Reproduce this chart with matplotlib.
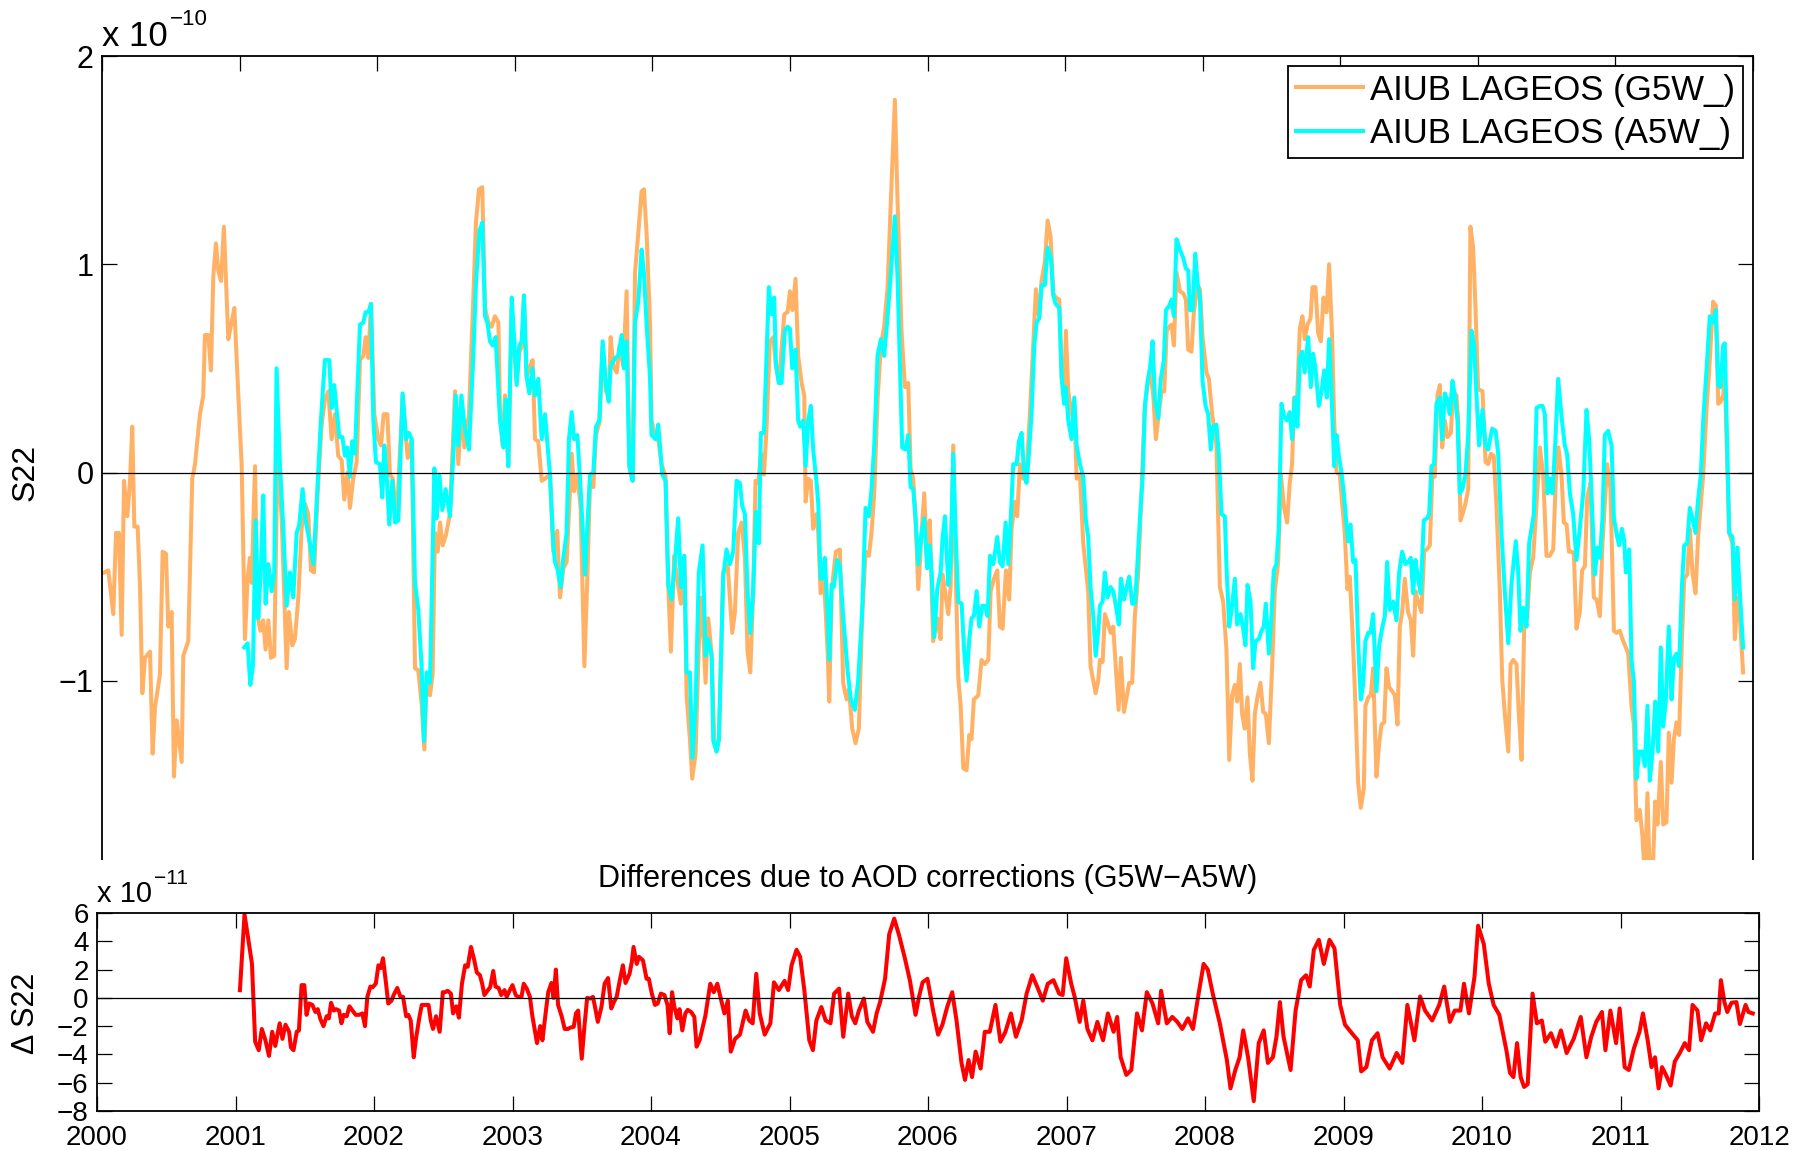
import matplotlib
matplotlib.use("Agg")
import matplotlib.pyplot as plt
from matplotlib.patches import Rectangle

plt.rcParams['font.family'] = ['Liberation Sans', 'DejaVu Sans']

# S22 from AIUB LAGEOS solutions with the G5W_ processing (decimal year, units of 1e-10)
g5w = [
    (2000.017, -0.48), (2000.046, -0.47), (2000.082, -0.68), (2000.102, -0.29), (2000.123, -0.29),
    (2000.143, -0.78), (2000.160, -0.04), (2000.184, -0.21), (2000.203, -0.05), (2000.220, 0.22),
    (2000.235, -0.26), (2000.259, -0.26), (2000.276, -0.54), (2000.293, -1.06), (2000.312, -0.89),
    (2000.349, -0.86), (2000.368, -1.35), (2000.385, -1.13), (2000.421, -0.97), (2000.441, -0.38),
    (2000.465, -0.39), (2000.482, -0.74), (2000.506, -0.67), (2000.523, -1.46), (2000.543, -1.19),
    (2000.579, -1.39), (2000.591, -0.88), (2000.627, -0.81), (2000.656, -0.03), (2000.676, 0.04),
    (2000.712, 0.28), (2000.736, 0.37), (2000.748, 0.66), (2000.773, 0.66), (2000.792, 0.49),
    (2000.809, 0.94), (2000.828, 1.10), (2000.845, 0.97), (2000.865, 0.92), (2000.886, 1.18),
    (2000.918, 0.64), (2000.942, 0.72), (2000.962, 0.79), (2000.991, 0.37), (2001.015, 0.04),
    (2001.039, -0.80), (2001.058, -0.51), (2001.075, -0.41), (2001.088, -0.53), (2001.112, 0.03),
    (2001.131, -0.69), (2001.151, -0.76), (2001.172, -0.71), (2001.189, -0.85), (2001.209, -0.71),
    (2001.228, -0.89), (2001.252, -0.88), (2001.276, 0.10), (2001.306, -0.22), (2001.342, -0.94),
    (2001.359, -0.67), (2001.383, -0.83), (2001.402, -0.80), (2001.427, -0.60), (2001.451, -0.27),
    (2001.475, -0.15), (2001.499, -0.20), (2001.519, -0.47), (2001.541, -0.48), (2001.567, -0.10),
    (2001.596, 0.23), (2001.620, 0.35), (2001.645, 0.39), (2001.669, 0.16), (2001.693, 0.28),
    (2001.717, 0.08), (2001.742, 0.06), (2001.761, -0.13), (2001.785, 0.00), (2001.802, -0.17),
    (2001.826, -0.03), (2001.851, 0.05), (2001.875, 0.54), (2001.899, 0.56), (2001.916, 0.65),
    (2001.936, 0.55), (2001.955, 0.81), (2001.979, 0.28), (2002.008, 0.16), (2002.028, 0.13),
    (2002.047, 0.28), (2002.074, 0.28), (2002.093, -0.01), (2002.113, -0.03), (2002.142, -0.23),
    (2002.185, 0.37), (2002.210, 0.16), (2002.222, 0.07), (2002.251, 0.16), (2002.275, -0.94),
    (2002.299, -0.95), (2002.323, -1.11), (2002.343, -1.33), (2002.360, -0.97), (2002.384, -1.07),
    (2002.403, -0.97), (2002.420, -0.29), (2002.440, -0.38), (2002.457, -0.24), (2002.476, -0.35),
    (2002.500, -0.30), (2002.529, -0.20), (2002.566, 0.39), (2002.590, 0.04), (2002.614, 0.32),
    (2002.634, 0.12), (2002.667, 0.28), (2002.699, 0.84), (2002.718, 1.20), (2002.740, 1.36),
    (2002.764, 1.37), (2002.784, 0.79), (2002.808, 0.72), (2002.832, 0.70), (2002.856, 0.75),
    (2002.881, 0.72), (2002.893, 0.28), (2002.912, 0.13), (2002.929, 0.37), (2002.953, 0.03),
    (2002.978, 0.79), (2002.995, 0.61), (2003.014, 0.43), (2003.033, 0.58), (2003.057, 0.61),
    (2003.067, 0.85), (2003.086, 0.46), (2003.111, 0.51), (2003.130, 0.54), (2003.147, 0.16),
    (2003.171, 0.15), (2003.196, -0.04), (2003.220, -0.03), (2003.256, -0.01), (2003.280, -0.38),
    (2003.309, -0.28), (2003.329, -0.60), (2003.353, -0.46), (2003.377, -0.43), (2003.414, 0.09),
    (2003.431, -0.09), (2003.455, -0.01), (2003.479, -0.17), (2003.506, -0.93), (2003.527, -0.52),
    (2003.547, -0.05), (2003.571, -0.07), (2003.590, 0.18), (2003.615, 0.24), (2003.639, 0.61),
    (2003.663, 0.39), (2003.683, 0.37), (2003.697, 0.65), (2003.716, 0.51), (2003.741, 0.48),
    (2003.760, 0.61), (2003.789, 0.51), (2003.813, 0.87), (2003.833, 0.03), (2003.857, -0.04),
    (2003.874, 0.96), (2003.898, 1.15), (2003.922, 1.35), (2003.939, 1.36), (2003.959, 1.14),
    (2003.983, 0.72), (2003.994, 0.25), (2004.024, 0.16), (2004.043, 0.16), (2004.067, 0.04),
    (2004.096, -0.02), (2004.116, -0.55), (2004.135, -0.86), (2004.159, -0.40), (2004.176, -0.49),
    (2004.208, -0.63), (2004.232, -0.40), (2004.249, -1.07), (2004.273, -1.28), (2004.290, -1.47),
    (2004.314, -1.35), (2004.338, -0.83), (2004.358, -0.60), (2004.387, -1.01), (2004.406, -0.70),
    (2004.431, -0.87), (2004.450, -1.28), (2004.467, -1.34), (2004.484, -1.28), (2004.515, -0.48),
    (2004.547, -0.44), (2004.581, -0.77), (2004.600, -0.67), (2004.624, -0.29), (2004.649, -0.24),
    (2004.673, -0.41), (2004.692, -0.86), (2004.712, -0.96), (2004.733, -0.57), (2004.750, -0.04),
    (2004.770, -0.05), (2004.789, 0.09), (2004.811, -0.01), (2004.830, 0.21), (2004.854, 0.63),
    (2004.879, 0.65), (2004.898, 0.52), (2004.920, 0.43), (2004.959, 0.76), (2004.983, 0.77),
    (2005.000, 0.87), (2005.019, 0.78), (2005.041, 0.93), (2005.060, 0.56), (2005.085, 0.43),
    (2005.104, 0.37), (2005.114, -0.14), (2005.133, -0.03), (2005.152, -0.04), (2005.169, -0.27),
    (2005.194, -0.20), (2005.206, -0.29), (2005.223, -0.58), (2005.249, -0.52), (2005.274, -0.86),
    (2005.286, -1.10), (2005.303, -0.57), (2005.334, -0.38), (2005.363, -0.37), (2005.387, -1.01),
    (2005.412, -1.09), (2005.429, -1.04), (2005.453, -1.23), (2005.477, -1.30), (2005.501, -1.23),
    (2005.525, -0.69), (2005.550, -0.38), (2005.574, -0.40), (2005.593, -0.29), (2005.613, -0.10),
    (2005.637, 0.35), (2005.661, 0.61), (2005.685, 0.70), (2005.710, 0.89), (2005.734, 1.31),
    (2005.763, 1.79), (2005.782, 1.31), (2005.811, 0.68), (2005.836, 0.41), (2005.860, 0.43),
    (2005.877, 0.02), (2005.896, -0.03), (2005.913, -0.22), (2005.933, -0.56), (2005.957, -0.29),
    (2005.976, -0.10), (2005.998, -0.43), (2006.017, -0.23), (2006.041, -0.81), (2006.071, -0.70),
    (2006.095, -0.80), (2006.110, -0.49), (2006.127, -0.57), (2006.151, -0.68), (2006.168, -0.55),
    (2006.187, 0.13), (2006.207, -0.53), (2006.224, -0.99), (2006.241, -1.12), (2006.260, -1.42),
    (2006.284, -1.43), (2006.304, -1.26), (2006.320, -1.28), (2006.337, -1.09), (2006.369, -1.07),
    (2006.393, -0.90), (2006.417, -0.92), (2006.442, -0.90), (2006.459, -0.57), (2006.483, -0.51),
    (2006.507, -0.47), (2006.526, -0.74), (2006.546, -0.75), (2006.570, -0.47), (2006.594, -0.61),
    (2006.611, -0.27), (2006.635, -0.14), (2006.652, -0.21), (2006.672, 0.04), (2006.696, -0.03),
    (2006.720, -0.01), (2006.744, 0.28), (2006.769, 0.62), (2006.788, 0.88), (2006.812, 0.74),
    (2006.829, 0.92), (2006.853, 1.01), (2006.873, 1.21), (2006.895, 1.13), (2006.914, 0.86),
    (2006.933, 0.84), (2006.958, 0.83), (2006.975, 0.46), (2006.992, 0.37), (2007.006, 0.68),
    (2007.023, 0.39), (2007.047, 0.28), (2007.067, 0.32), (2007.084, -0.03), (2007.108, -0.01),
    (2007.132, -0.34), (2007.151, -0.46), (2007.168, -0.57), (2007.185, -0.93), (2007.205, -1.00),
    (2007.222, -1.06), (2007.241, -1.00), (2007.253, -0.90), (2007.273, -0.91), (2007.289, -0.68),
    (2007.309, -0.72), (2007.331, -0.77), (2007.350, -0.74), (2007.369, -0.94), (2007.389, -1.14),
    (2007.406, -0.89), (2007.428, -1.15), (2007.447, -1.08), (2007.466, -1.01), (2007.488, -1.01),
    (2007.507, -0.69), (2007.532, -0.48), (2007.556, -0.08), (2007.580, 0.32), (2007.600, 0.42),
    (2007.617, 0.50), (2007.641, 0.37), (2007.660, 0.16), (2007.677, 0.26), (2007.701, 0.39),
    (2007.721, 0.39), (2007.738, 0.68), (2007.757, 0.70), (2007.774, 0.71), (2007.791, 0.61),
    (2007.810, 0.96), (2007.835, 0.87), (2007.859, 0.86), (2007.878, 0.83), (2007.895, 0.59),
    (2007.919, 0.58), (2007.936, 0.77), (2007.963, 0.90), (2007.980, 0.88), (2007.999, 0.65),
    (2008.028, 0.48), (2008.045, 0.45), (2008.069, 0.28), (2008.100, 0.13), (2008.125, -0.55),
    (2008.149, -0.62), (2008.173, -0.85), (2008.193, -1.38), (2008.214, -1.07), (2008.234, -1.02),
    (2008.251, -1.10), (2008.270, -0.92), (2008.287, -1.16), (2008.306, -1.23), (2008.326, -1.08),
    (2008.343, -1.35), (2008.362, -1.48), (2008.379, -1.16), (2008.398, -1.08), (2008.420, -1.01),
    (2008.440, -1.15), (2008.459, -1.16), (2008.481, -1.30), (2008.505, -0.93), (2008.524, -0.57),
    (2008.549, -0.43), (2008.568, -0.01), (2008.592, -0.17), (2008.614, -0.24), (2008.633, -0.05),
    (2008.650, 0.04), (2008.665, 0.36), (2008.684, 0.31), (2008.706, 0.69), (2008.725, 0.75),
    (2008.742, 0.64), (2008.762, 0.71), (2008.784, 0.74), (2008.798, 0.89), (2008.820, 0.89),
    (2008.839, 0.67), (2008.859, 0.63), (2008.878, 0.84), (2008.900, 0.77), (2008.919, 1.00),
    (2008.941, 0.65), (2008.956, 0.25), (2008.973, 0.00), (2008.997, -0.01), (2009.014, -0.15),
    (2009.033, -0.29), (2009.052, -0.56), (2009.069, -0.50), (2009.089, -0.76), (2009.106, -1.04),
    (2009.130, -1.49), (2009.149, -1.61), (2009.171, -1.52), (2009.183, -1.12), (2009.203, -1.08),
    (2009.222, -1.07), (2009.239, -0.94), (2009.263, -1.46), (2009.283, -1.30), (2009.300, -1.21),
    (2009.319, -1.20), (2009.336, -0.94), (2009.355, -1.03), (2009.377, -1.05), (2009.397, -1.07),
    (2009.416, -1.21), (2009.433, -0.74), (2009.450, -0.67), (2009.469, -0.51), (2009.493, -0.67),
    (2009.513, -0.71), (2009.530, -0.88), (2009.547, -0.57), (2009.566, -0.62), (2009.590, -0.67),
    (2009.610, -0.38), (2009.627, -0.37), (2009.651, -0.35), (2009.670, -0.01), (2009.687, -0.02),
    (2009.707, 0.37), (2009.724, 0.42), (2009.741, 0.12), (2009.760, 0.25), (2009.779, 0.17),
    (2009.804, 0.19), (2009.820, 0.39), (2009.845, 0.37), (2009.857, 0.25), (2009.874, -0.23),
    (2009.893, -0.19), (2009.910, -0.15), (2009.930, -0.08), (2009.946, 1.18), (2009.966, 1.08),
    (2009.983, 0.79), (2010.002, 0.40), (2010.034, 0.39), (2010.056, 0.05), (2010.075, 0.04),
    (2010.095, 0.09), (2010.116, 0.08), (2010.136, -0.17), (2010.160, -0.57), (2010.177, -0.99),
    (2010.196, -1.16), (2010.221, -1.34), (2010.238, -0.92), (2010.257, -0.90), (2010.281, -0.92),
    (2010.298, -1.16), (2010.318, -1.38), (2010.337, -0.74), (2010.359, -0.69), (2010.378, -0.48),
    (2010.402, -0.41), (2010.422, -0.20), (2010.451, 0.12), (2010.475, -0.01), (2010.499, -0.40),
    (2010.523, -0.40), (2010.548, -0.37), (2010.567, -0.03), (2010.586, 0.12), (2010.608, -0.01),
    (2010.625, -0.24), (2010.645, -0.25), (2010.662, -0.38), (2010.681, -0.38), (2010.698, -0.39),
    (2010.717, -0.75), (2010.741, -0.67), (2010.758, -0.47), (2010.778, -0.45), (2010.795, -0.12),
    (2010.819, -0.05), (2010.843, -0.60), (2010.863, -0.61), (2010.887, -0.69), (2010.906, -0.34),
    (2010.940, 0.04), (2010.964, -0.08), (2010.989, -0.76), (2011.008, -0.77), (2011.032, -0.76),
    (2011.051, -0.80), (2011.076, -0.84), (2011.093, -0.87), (2011.117, -1.12), (2011.134, -1.21),
    (2011.153, -1.67), (2011.177, -1.62), (2011.197, -1.75), (2011.214, -1.95), (2011.233, -1.54),
    (2011.250, -1.95), (2011.270, -1.95), (2011.289, -1.58), (2011.306, -1.69), (2011.330, -1.39),
    (2011.347, -1.69), (2011.371, -1.68), (2011.388, -1.25), (2011.408, -1.49), (2011.425, -1.28),
    (2011.444, -1.20), (2011.463, -1.26), (2011.483, -0.81), (2011.500, -0.51), (2011.522, -0.49),
    (2011.541, -0.27), (2011.560, -0.48), (2011.582, -0.58), (2011.601, -0.31), (2011.621, -0.15),
    (2011.638, -0.01), (2011.662, 0.30), (2011.686, 0.54), (2011.710, 0.82), (2011.730, 0.80),
    (2011.747, 0.33), (2011.764, 0.34), (2011.783, 0.37), (2011.795, 0.46), (2011.812, 0.06),
    (2011.827, -0.29), (2011.851, -0.34), (2011.868, -0.80), (2011.887, -0.60), (2011.904, -0.69),
    (2011.928, -0.96),
]

# S22 from AIUB LAGEOS solutions with the A5W_ processing (decimal year, units of 1e-10)
a5w = [
    (2001.034, -0.84), (2001.058, -0.82), (2001.078, -1.02), (2001.097, -0.93), (2001.117, -0.23),
    (2001.136, -0.70), (2001.155, -0.45), (2001.172, -0.11), (2001.189, -0.63), (2001.209, -0.44),
    (2001.233, -0.57), (2001.252, -0.48), (2001.269, 0.50), (2001.293, 0.04), (2001.318, -0.27),
    (2001.342, -0.64), (2001.366, -0.48), (2001.390, -0.60), (2001.415, -0.29), (2001.434, -0.25),
    (2001.458, -0.08), (2001.480, -0.23), (2001.511, -0.34), (2001.536, -0.44), (2001.560, -0.15),
    (2001.591, 0.25), (2001.620, 0.54), (2001.652, 0.54), (2001.669, 0.31), (2001.688, 0.42),
    (2001.713, 0.25), (2001.725, 0.17), (2001.747, 0.17), (2001.766, 0.08), (2001.783, 0.12),
    (2001.802, -0.02), (2001.819, 0.15), (2001.838, 0.09), (2001.875, 0.71), (2001.899, 0.72),
    (2001.916, 0.77), (2001.936, 0.77), (2001.955, 0.81), (2001.972, 0.25), (2001.991, 0.05),
    (2002.020, 0.04), (2002.037, -0.12), (2002.052, 0.13), (2002.069, -0.01), (2002.088, -0.25),
    (2002.110, -0.04), (2002.130, -0.24), (2002.154, -0.23), (2002.185, 0.38), (2002.210, 0.16),
    (2002.231, 0.19), (2002.251, 0.16), (2002.275, -0.53), (2002.299, -0.66), (2002.323, -0.93),
    (2002.340, -1.29), (2002.360, -0.96), (2002.384, -1.01), (2002.416, 0.02), (2002.433, -0.22),
    (2002.452, -0.01), (2002.474, -0.18), (2002.498, -0.08), (2002.529, -0.21), (2002.554, 0.09),
    (2002.571, 0.37), (2002.590, 0.13), (2002.612, 0.37), (2002.636, 0.22), (2002.667, 0.11),
    (2002.699, 0.56), (2002.718, 0.91), (2002.743, 1.16), (2002.764, 1.20), (2002.784, 0.75),
    (2002.801, 0.72), (2002.820, 0.63), (2002.839, 0.61), (2002.861, 0.65), (2002.893, 0.25),
    (2002.917, 0.12), (2002.934, 0.35), (2002.953, 0.03), (2002.978, 0.84), (2002.995, 0.65),
    (2003.014, 0.42), (2003.033, 0.61), (2003.050, 0.63), (2003.067, 0.85), (2003.086, 0.46),
    (2003.106, 0.38), (2003.128, 0.50), (2003.147, 0.37), (2003.171, 0.45), (2003.196, 0.16),
    (2003.220, 0.28), (2003.256, -0.01), (2003.280, -0.34), (2003.292, -0.43), (2003.309, -0.46),
    (2003.334, -0.55), (2003.353, -0.41), (2003.377, -0.29), (2003.394, 0.16), (2003.414, 0.29),
    (2003.431, 0.16), (2003.455, 0.18), (2003.479, -0.08), (2003.510, -0.49), (2003.527, -0.27),
    (2003.547, -0.01), (2003.571, 0.00), (2003.590, 0.22), (2003.615, 0.25), (2003.639, 0.63),
    (2003.663, 0.42), (2003.683, 0.34), (2003.697, 0.51), (2003.729, 0.55), (2003.753, 0.56),
    (2003.777, 0.66), (2003.794, 0.50), (2003.813, 0.63), (2003.833, 0.03), (2003.857, -0.04),
    (2003.874, 0.72), (2003.898, 0.82), (2003.922, 1.07), (2003.939, 0.96), (2003.959, 0.70),
    (2003.983, 0.46), (2003.994, 0.18), (2004.024, 0.16), (2004.043, 0.23), (2004.072, -0.01),
    (2004.096, -0.04), (2004.116, -0.54), (2004.140, -0.61), (2004.164, -0.43), (2004.188, -0.22),
    (2004.208, -0.55), (2004.232, -0.40), (2004.249, -0.96), (2004.273, -0.96), (2004.292, -1.37),
    (2004.314, -1.12), (2004.338, -0.48), (2004.365, -0.35), (2004.387, -0.88), (2004.406, -0.80),
    (2004.431, -0.88), (2004.443, -1.29), (2004.467, -1.34), (2004.484, -1.28), (2004.515, -0.50),
    (2004.539, -0.37), (2004.564, -0.44), (2004.588, -0.38), (2004.612, -0.04), (2004.636, -0.05),
    (2004.653, -0.16), (2004.673, -0.20), (2004.692, -0.57), (2004.712, -0.77), (2004.733, -0.57),
    (2004.753, -0.19), (2004.774, -0.34), (2004.789, 0.19), (2004.811, 0.19), (2004.830, 0.56),
    (2004.847, 0.89), (2004.867, 0.76), (2004.886, 0.84), (2004.898, 0.52), (2004.920, 0.43),
    (2004.939, 0.43), (2004.963, 0.68), (2004.983, 0.70), (2005.000, 0.69), (2005.017, 0.50),
    (2005.041, 0.59), (2005.060, 0.25), (2005.075, 0.22), (2005.097, 0.25), (2005.114, 0.03),
    (2005.133, 0.25), (2005.152, 0.32), (2005.169, 0.11), (2005.194, -0.05), (2005.206, -0.15),
    (2005.223, -0.51), (2005.235, -0.51), (2005.254, -0.41), (2005.274, -0.67), (2005.286, -0.90),
    (2005.303, -0.54), (2005.319, -0.55), (2005.344, -0.42), (2005.363, -0.45), (2005.387, -0.69),
    (2005.419, -0.95), (2005.443, -1.09), (2005.472, -1.14), (2005.496, -1.00), (2005.525, -0.67),
    (2005.550, -0.17), (2005.574, -0.21), (2005.593, -0.08), (2005.613, 0.13), (2005.637, 0.56),
    (2005.661, 0.64), (2005.685, 0.56), (2005.710, 0.75), (2005.734, 0.96), (2005.763, 1.23),
    (2005.782, 0.94), (2005.806, 0.37), (2005.816, 0.12), (2005.840, 0.11), (2005.860, 0.18),
    (2005.877, -0.07), (2005.896, -0.08), (2005.913, -0.22), (2005.933, -0.44), (2005.957, -0.29),
    (2005.976, -0.22), (2005.998, -0.46), (2006.017, -0.35), (2006.030, -0.48), (2006.049, -0.79),
    (2006.071, -0.56), (2006.095, -0.48), (2006.110, -0.31), (2006.127, -0.21), (2006.151, -0.54),
    (2006.168, -0.43), (2006.187, 0.09), (2006.207, -0.34), (2006.224, -0.62), (2006.248, -0.63),
    (2006.267, -0.86), (2006.284, -1.00), (2006.304, -0.80), (2006.320, -0.70), (2006.337, -0.69),
    (2006.357, -0.57), (2006.376, -0.74), (2006.398, -0.64), (2006.417, -0.64), (2006.437, -0.69),
    (2006.454, -0.40), (2006.478, -0.44), (2006.507, -0.31), (2006.526, -0.43), (2006.546, -0.45),
    (2006.568, -0.24), (2006.587, -0.44), (2006.604, -0.24), (2006.623, 0.04), (2006.648, 0.04),
    (2006.664, 0.15), (2006.684, 0.19), (2006.703, -0.01), (2006.720, -0.05), (2006.737, 0.09),
    (2006.756, 0.28), (2006.776, 0.61), (2006.793, 0.72), (2006.812, 0.74), (2006.829, 0.90),
    (2006.853, 0.90), (2006.873, 1.08), (2006.897, 1.03), (2006.914, 0.85), (2006.931, 0.81),
    (2006.958, 0.79), (2006.975, 0.46), (2006.992, 0.33), (2007.006, 0.41), (2007.023, 0.25),
    (2007.047, 0.16), (2007.067, 0.36), (2007.084, 0.13), (2007.108, 0.04), (2007.132, -0.02),
    (2007.151, -0.23), (2007.168, -0.31), (2007.185, -0.55), (2007.205, -0.69), (2007.222, -0.88),
    (2007.241, -0.76), (2007.253, -0.64), (2007.273, -0.62), (2007.289, -0.48), (2007.309, -0.60),
    (2007.331, -0.55), (2007.350, -0.57), (2007.369, -0.64), (2007.391, -0.73), (2007.406, -0.51),
    (2007.428, -0.61), (2007.442, -0.57), (2007.466, -0.50), (2007.488, -0.63), (2007.507, -0.63),
    (2007.524, -0.46), (2007.544, -0.22), (2007.563, -0.03), (2007.580, 0.32), (2007.600, 0.44),
    (2007.617, 0.50), (2007.636, 0.63), (2007.653, 0.35), (2007.677, 0.26), (2007.696, 0.45),
    (2007.718, 0.54), (2007.733, 0.78), (2007.757, 0.80), (2007.774, 0.83), (2007.791, 0.75),
    (2007.810, 1.12), (2007.835, 1.07), (2007.859, 1.03), (2007.878, 0.98), (2007.895, 0.97),
    (2007.907, 0.78), (2007.927, 0.78), (2007.946, 1.05), (2007.963, 0.91), (2007.980, 0.84),
    (2007.999, 0.44), (2008.021, 0.32), (2008.040, 0.28), (2008.059, 0.11), (2008.076, 0.22),
    (2008.100, 0.23), (2008.117, 0.09), (2008.137, -0.20), (2008.161, -0.21), (2008.173, -0.45),
    (2008.193, -0.74), (2008.214, -0.64), (2008.234, -0.51), (2008.251, -0.73), (2008.275, -0.68),
    (2008.294, -0.75), (2008.311, -0.83), (2008.326, -0.54), (2008.348, -0.62), (2008.367, -0.94),
    (2008.384, -0.81), (2008.408, -0.80), (2008.428, -0.76), (2008.444, -0.74), (2008.459, -0.63),
    (2008.481, -0.87), (2008.500, -0.69), (2008.517, -0.47), (2008.536, -0.44), (2008.553, -0.27),
    (2008.573, 0.33), (2008.592, 0.27), (2008.612, 0.25), (2008.633, 0.29), (2008.650, 0.16),
    (2008.670, 0.36), (2008.689, 0.22), (2008.706, 0.55), (2008.723, 0.58), (2008.742, 0.48),
    (2008.767, 0.65), (2008.786, 0.41), (2008.803, 0.57), (2008.820, 0.50), (2008.844, 0.32),
    (2008.864, 0.39), (2008.883, 0.49), (2008.902, 0.36), (2008.919, 0.64), (2008.936, 0.39),
    (2008.956, 0.03), (2008.973, 0.18), (2008.990, 0.08), (2009.009, 0.00), (2009.026, -0.10),
    (2009.045, -0.25), (2009.057, -0.33), (2009.074, -0.25), (2009.094, -0.43), (2009.111, -0.42),
    (2009.130, -0.81), (2009.149, -1.09), (2009.166, -1.02), (2009.183, -0.81), (2009.203, -0.77),
    (2009.220, -0.77), (2009.239, -0.68), (2009.263, -1.05), (2009.283, -0.83), (2009.304, -0.75),
    (2009.324, -0.69), (2009.341, -0.43), (2009.360, -0.66), (2009.384, -0.62), (2009.409, -0.71),
    (2009.428, -0.48), (2009.450, -0.38), (2009.474, -0.44), (2009.493, -0.43), (2009.513, -0.41),
    (2009.530, -0.58), (2009.547, -0.42), (2009.566, -0.51), (2009.585, -0.58), (2009.607, -0.23),
    (2009.631, -0.22), (2009.646, -0.20), (2009.663, 0.03), (2009.682, 0.04), (2009.699, 0.33),
    (2009.724, 0.36), (2009.741, 0.16), (2009.760, 0.38), (2009.777, 0.35), (2009.796, 0.28),
    (2009.816, 0.44), (2009.833, 0.37), (2009.852, 0.25), (2009.869, -0.10), (2009.888, -0.08),
    (2009.910, -0.01), (2009.930, 0.18), (2009.954, 0.68), (2009.973, 0.61), (2009.990, 0.37),
    (2010.009, 0.13), (2010.034, 0.30), (2010.056, 0.13), (2010.075, 0.11), (2010.104, 0.21),
    (2010.129, 0.20), (2010.148, 0.09), (2010.172, -0.29), (2010.196, -0.57), (2010.221, -0.82),
    (2010.245, -0.53), (2010.276, -0.33), (2010.293, -0.47), (2010.310, -0.76), (2010.330, -0.65),
    (2010.354, -0.74), (2010.373, -0.34), (2010.390, -0.27), (2010.407, -0.20), (2010.427, 0.31),
    (2010.451, 0.32), (2010.470, 0.32), (2010.487, 0.28), (2010.506, -0.10), (2010.523, -0.03),
    (2010.543, -0.10), (2010.562, 0.13), (2010.584, 0.45), (2010.608, 0.27), (2010.632, 0.13),
    (2010.649, 0.09), (2010.669, -0.10), (2010.693, -0.20), (2010.717, -0.42), (2010.741, -0.27),
    (2010.766, -0.10), (2010.790, 0.30), (2010.809, 0.16), (2010.826, -0.10), (2010.850, -0.49),
    (2010.870, -0.36), (2010.887, -0.41), (2010.906, -0.22), (2010.923, 0.18), (2010.947, 0.20),
    (2010.972, 0.13), (2010.989, -0.22), (2011.013, -0.31), (2011.027, -0.35), (2011.047, -0.27),
    (2011.064, -0.33), (2011.076, -0.48), (2011.100, -0.37), (2011.117, -0.90), (2011.134, -1.00),
    (2011.153, -1.47), (2011.173, -1.34), (2011.194, -1.34), (2011.214, -1.41), (2011.233, -1.12),
    (2011.250, -1.48), (2011.270, -1.34), (2011.289, -1.10), (2011.311, -1.34), (2011.330, -0.84),
    (2011.347, -1.22), (2011.366, -1.10), (2011.388, -0.74), (2011.408, -1.09), (2011.425, -0.89),
    (2011.444, -0.87), (2011.463, -0.93), (2011.483, -0.55), (2011.500, -0.35), (2011.522, -0.34),
    (2011.541, -0.17), (2011.560, -0.22), (2011.582, -0.29), (2011.601, -0.13), (2011.621, -0.01),
    (2011.638, 0.25), (2011.662, 0.49), (2011.686, 0.75), (2011.710, 0.72), (2011.730, 0.78),
    (2011.747, 0.42), (2011.764, 0.41), (2011.783, 0.61), (2011.795, 0.62), (2011.812, 0.13),
    (2011.827, -0.29), (2011.851, -0.31), (2011.868, -0.61), (2011.887, -0.36), (2011.904, -0.57),
    (2011.928, -0.84),
]

# G5W - A5W differences (decimal year, units of 1e-11)
aod_diff = [
    (2001.032, 0.54), (2001.065, 5.9), (2001.087, 4.5), (2001.119, 2.4), (2001.142, -3.1),
    (2001.168, -3.7), (2001.190, -2.2), (2001.216, -3.0), (2001.242, -4.1), (2001.265, -2.4),
    (2001.287, -3.4), (2001.319, -1.8), (2001.339, -2.9), (2001.361, -1.9), (2001.387, -2.4),
    (2001.400, -3.5), (2001.419, -3.7), (2001.442, -2.4), (2001.458, -2.3), (2001.477, 0.9),
    (2001.497, 0.9), (2001.513, -1.2), (2001.532, -0.4), (2001.555, -0.5), (2001.577, -1.0),
    (2001.594, -0.8), (2001.613, -1.5), (2001.635, -2.0), (2001.658, -1.3), (2001.674, -1.45),
    (2001.690, -0.35), (2001.710, -0.9), (2001.726, -0.8), (2001.748, -0.9), (2001.765, -1.8),
    (2001.781, -1.2), (2001.803, -1.3), (2001.823, -0.6), (2001.845, -0.9), (2001.868, -1.2),
    (2001.894, -1.2), (2001.916, -1.1), (2001.935, -2.0), (2001.952, 0.07), (2001.974, 0.8),
    (2001.990, 0.75), (2002.013, 1.0), (2002.032, 2.3), (2002.048, 2.1), (2002.065, 2.8),
    (2002.087, 1.0), (2002.103, -0.4), (2002.126, -0.2), (2002.142, 0.2), (2002.168, 0.7),
    (2002.190, 0.1), (2002.210, 0.07), (2002.232, -1.3), (2002.248, -1.2), (2002.265, -1.6),
    (2002.287, -4.2), (2002.303, -2.9), (2002.329, -1.3), (2002.345, -0.5), (2002.368, -0.5),
    (2002.394, -0.5), (2002.410, -1.6), (2002.426, -2.2), (2002.448, -1.3), (2002.474, -2.4),
    (2002.497, 0.4), (2002.513, 0.4), (2002.532, 0.5), (2002.555, 0.3), (2002.571, -1.1),
    (2002.594, -0.6), (2002.613, -1.4), (2002.635, 1.0), (2002.658, 2.3), (2002.677, 2.2),
    (2002.700, 3.6), (2002.723, 2.7), (2002.742, 1.8), (2002.765, 1.6), (2002.781, 1.0),
    (2002.797, 0.2), (2002.819, 0.5), (2002.839, 0.75), (2002.861, 1.9), (2002.877, 0.8),
    (2002.900, 0.7), (2002.919, 0.2), (2002.942, 0.55), (2002.958, 0.07), (2002.981, 0.55),
    (2003.000, 0.9), (2003.023, 0.2), (2003.039, 0.07), (2003.065, 0.07), (2003.081, 1.0),
    (2003.103, 0.65), (2003.126, 0.07), (2003.142, -1.2), (2003.161, -2.3), (2003.177, -3.2),
    (2003.200, -2.0), (2003.216, -3.0), (2003.239, -1.1), (2003.258, 0.4), (2003.281, 1.05),
    (2003.297, 0.0), (2003.313, 2.0), (2003.329, -0.5), (2003.355, -1.3), (2003.377, -2.2),
    (2003.400, -2.2), (2003.419, -2.1), (2003.442, -2.05), (2003.458, -1.1), (2003.474, -0.9),
    (2003.500, -4.3), (2003.519, -2.05), (2003.539, 0.0), (2003.561, -0.05), (2003.581, 0.07),
    (2003.603, -1.0), (2003.616, -1.7), (2003.642, -0.65), (2003.665, 1.0), (2003.690, 1.4),
    (2003.713, -0.75), (2003.732, -0.3), (2003.752, 0.07), (2003.774, 1.2), (2003.797, 2.3),
    (2003.816, 1.05), (2003.845, 1.7), (2003.861, 2.5), (2003.874, 3.6), (2003.897, 2.4),
    (2003.913, 2.9), (2003.942, 2.65), (2003.968, 1.35), (2003.984, 1.35), (2004.006, 0.3),
    (2004.029, -0.5), (2004.048, -0.4), (2004.071, 0.3), (2004.097, 0.2), (2004.119, -0.5),
    (2004.135, -2.5), (2004.152, 0.4), (2004.168, -0.6), (2004.190, -1.45), (2004.206, -0.8),
    (2004.226, -2.3), (2004.248, -1.1), (2004.265, -0.85), (2004.290, -1.0), (2004.313, -1.35),
    (2004.329, -3.45), (2004.351, -3.0), (2004.392, -1.3), (2004.428, 1.0), (2004.453, 0.4),
    (2004.479, 1.0), (2004.504, -0.05), (2004.530, -1.1), (2004.555, -0.2), (2004.576, -3.8),
    (2004.607, -2.9), (2004.642, -2.6), (2004.683, -0.9), (2004.709, -1.6), (2004.734, -1.8),
    (2004.760, 1.7), (2004.785, -1.1), (2004.821, -2.6), (2004.862, -1.8), (2004.888, 1.1),
    (2004.923, 0.55), (2004.964, 1.2), (2004.990, 0.55), (2005.015, 2.3), (2005.051, 3.4),
    (2005.077, 2.9), (2005.107, 0.55), (2005.143, -3.0), (2005.169, -3.7), (2005.194, -1.6),
    (2005.230, -0.65), (2005.261, -1.6), (2005.296, -1.8), (2005.322, 0.3), (2005.358, 0.65),
    (2005.388, -2.75), (2005.424, 0.3), (2005.450, -1.3), (2005.475, -1.8), (2005.501, -0.9),
    (2005.537, -0.05), (2005.562, -1.7), (2005.603, -2.4), (2005.629, -1.1), (2005.654, -0.3),
    (2005.690, 1.35), (2005.720, 4.5), (2005.756, 5.6), (2005.792, 4.4), (2005.833, 2.8),
    (2005.869, 1.25), (2005.910, -1.2), (2005.935, 0.07), (2005.961, 1.1), (2005.996, 1.35),
    (2006.037, -0.9), (2006.073, -2.6), (2006.104, -1.9), (2006.140, -0.6), (2006.175, 0.4),
    (2006.206, -1.6), (2006.242, -4.6), (2006.267, -5.8), (2006.293, -4.4), (2006.318, -5.6),
    (2006.344, -3.8), (2006.380, -5.0), (2006.410, -2.4), (2006.446, -2.4), (2006.487, -0.5),
    (2006.523, -3.1), (2006.559, -2.4), (2006.599, -1.1), (2006.635, -2.75), (2006.676, -1.6),
    (2006.712, 0.3), (2006.753, 1.6), (2006.788, 0.8), (2006.829, -0.2), (2006.865, 1.0),
    (2006.906, 1.25), (2006.947, 0.3), (2006.972, 0.2), (2006.998, 2.8), (2007.034, 1.0),
    (2007.059, 0.07), (2007.095, -1.7), (2007.121, -0.2), (2007.151, -2.2), (2007.187, -3.0),
    (2007.223, -1.7), (2007.264, -3.0), (2007.299, -1.1), (2007.340, -2.4), (2007.366, -1.35),
    (2007.391, -4.2), (2007.432, -5.45), (2007.468, -5.1), (2007.509, -1.1), (2007.545, -2.3),
    (2007.580, 0.4), (2007.621, -0.4), (2007.662, -1.8), (2007.683, 0.5), (2007.724, -1.8),
    (2007.764, -1.35), (2007.800, -1.7), (2007.836, -2.2), (2007.877, -1.45), (2007.913, -2.2),
    (2007.954, 0.3), (2007.990, 2.4), (2008.020, 2.0), (2008.056, 0.3), (2008.107, -1.8),
    (2008.158, -4.4), (2008.184, -6.4), (2008.219, -5.1), (2008.250, -4.2), (2008.276, -2.3),
    (2008.311, -4.2), (2008.352, -7.3), (2008.388, -3.2), (2008.424, -2.3), (2008.454, -4.6),
    (2008.490, -4.2), (2008.516, -2.75), (2008.541, -0.3), (2008.567, -2.75), (2008.618, -5.1),
    (2008.654, -0.9), (2008.694, 1.25), (2008.730, 1.6), (2008.756, 0.8), (2008.786, 3.4),
    (2008.822, 4.1), (2008.858, 2.4), (2008.899, 4.1), (2008.935, 3.5), (2008.976, -0.5),
    (2009.011, -1.9), (2009.052, -2.4), (2009.103, -3.0), (2009.128, -5.2), (2009.165, -4.9),
    (2009.205, -3.0), (2009.246, -2.5), (2009.282, -4.2), (2009.333, -5.0), (2009.384, -3.9),
    (2009.425, -4.6), (2009.461, -0.5), (2009.512, -3.0), (2009.553, 0.1), (2009.589, -0.9),
    (2009.640, -1.6), (2009.691, -0.5), (2009.727, 0.8), (2009.768, -1.7), (2009.803, -0.9),
    (2009.844, -0.9), (2009.870, 1.0), (2009.906, -1.1), (2009.946, 1.5), (2009.972, 5.1),
    (2010.013, 3.8), (2010.049, 1.0), (2010.084, -0.5), (2010.125, -1.2), (2010.176, -3.7),
    (2010.202, -5.3), (2010.227, -5.6), (2010.253, -3.2), (2010.279, -5.6), (2010.304, -6.3),
    (2010.330, -6.1), (2010.365, 0.3), (2010.396, -1.8), (2010.432, -1.6), (2010.457, -3.1),
    (2010.498, -2.5), (2010.534, -3.45), (2010.570, -2.3), (2010.611, -3.9), (2010.662, -2.9),
    (2010.713, -1.35), (2010.754, -4.2), (2010.789, -2.75), (2010.825, -1.7), (2010.866, -1.0),
    (2010.891, -3.7), (2010.927, -0.9), (2010.968, -3.2), (2010.994, -0.75), (2011.030, -4.9),
    (2011.060, -5.1), (2011.096, -3.6), (2011.137, -2.4), (2011.162, -1.1), (2011.198, -3.1),
    (2011.224, -4.9), (2011.249, -4.2), (2011.275, -6.4), (2011.300, -4.9), (2011.326, -5.4),
    (2011.362, -6.2), (2011.392, -4.5), (2011.428, -3.9), (2011.464, -3.2), (2011.495, -3.7),
    (2011.520, -0.5), (2011.556, -0.9), (2011.582, -3.0), (2011.618, -1.8), (2011.648, -2.3),
    (2011.684, -1.1), (2011.709, -1.1), (2011.725, 1.25), (2011.750, -0.3), (2011.771, -1.0),
    (2011.801, -0.35), (2011.837, -0.3), (2011.862, -1.85), (2011.903, -0.5), (2011.924, -1.0),
    (2011.955, -1.1),
]

series_labels = ['AIUB LAGEOS (G5W_)', 'AIUB LAGEOS (A5W_)']
series_colors = ['#FFB266', '#00FFFF']
diff_color = '#FF0000'
diff_title = 'Differences due to AOD corrections (G5W\u2212A5W)'
year_ticks = list(range(2000, 2013))
s22_ticks = [-1, 0, 1, 2]
diff_ticks = [-8, -6, -4, -2, 0, 2, 4, 6]

W, H = 1806, 1150
fig = plt.figure(figsize=(W / 100, H / 100), dpi=100)
fig.patch.set_facecolor('white')


def frac_box(left, top, right, bottom):
    return [left / W, 1 - bottom / H, (right - left) / W, (bottom - top) / H]


ax1 = fig.add_axes(frac_box(102, 56, 1753, 889), zorder=0)
ax2 = fig.add_axes(frac_box(97, 913, 1759, 1111), zorder=2)

LW = 2.9
for data, lab, col in zip([g5w, a5w], series_labels, series_colors):
    t, v = zip(*data)
    ax1.plot(t, v, color=col, lw=LW, label=lab, solid_joinstyle='round')
ax1.axhline(0, color='black', lw=0.9, zorder=3)
ax1.set_xlim(2000, 2012)
ax1.set_ylim(-2, 2)
ax1.set_xticks(year_ticks)
ax1.set_yticks(s22_ticks)
ax1.tick_params(axis='both', direction='in', length=11, width=0.9, labelsize=22,
                top=True, bottom=False, right=True, labelbottom=False, pad=6)
for side in ['top', 'left', 'right']:
    ax1.spines[side].set_linewidth(1.3)
ax1.spines['bottom'].set_visible(False)

leg = ax1.legend(loc='upper right', bbox_to_anchor=(0.9939, 0.988), borderaxespad=0,
                 fontsize=25, frameon=True, fancybox=False, framealpha=1, edgecolor='black',
                 handlelength=1.95, handletextpad=0.2, borderpad=0.22, labelspacing=0.3)
leg.get_frame().set_linewidth(1.3)

t, v = zip(*aod_diff)
ax2.plot(t, v, color=diff_color, lw=LW, solid_joinstyle='round')
ax2.axhline(0, color='black', lw=0.9, zorder=3)
ax2.set_xlim(2000, 2012)
ax2.set_ylim(-8, 6)
ax2.set_xticks(year_ticks)
ax2.set_yticks(diff_ticks)
ax2.tick_params(axis='both', direction='in', length=11, width=0.9, labelsize=20,
                top=True, right=True, pad=6)
ax2.tick_params(axis='x', pad=10)
for side in ax2.spines.values():
    side.set_linewidth(1.3)
ax2.text(0.5, 1 + 34 / 198, diff_title, transform=ax2.transAxes, ha='center', va='center',
         fontsize=22)

# white band hiding the lower edge of the upper panel
fig.add_artist(Rectangle((0, (H - 912) / H), 1, 52 / H, transform=fig.transFigure,
                         facecolor='white', edgecolor='none', zorder=1))

# axis labels and exponent annotations
fig.text(26 / W, 1 - 472 / H, 'S22', rotation=90, ha='center', va='center', fontsize=23)
fig.text(26 / W, 1 - 1013 / H, '\u0394 S22', rotation=90, ha='center', va='center',
         fontsize=22, zorder=3)
fig.text(102 / W, 1 - 46 / H, 'x 10', ha='left', va='baseline', fontsize=25)
fig.text(170 / W, 1 - 25 / H, '\u221210', ha='left', va='baseline', fontsize=16)
fig.text(97 / W, 1 - 902 / H, 'x 10', ha='left', va='baseline', fontsize=21, zorder=3)
fig.text(154 / W, 1 - 884 / H, '\u221211', ha='left', va='baseline', fontsize=15, zorder=3)

fig.savefig('out.png', dpi=100, facecolor='white')
